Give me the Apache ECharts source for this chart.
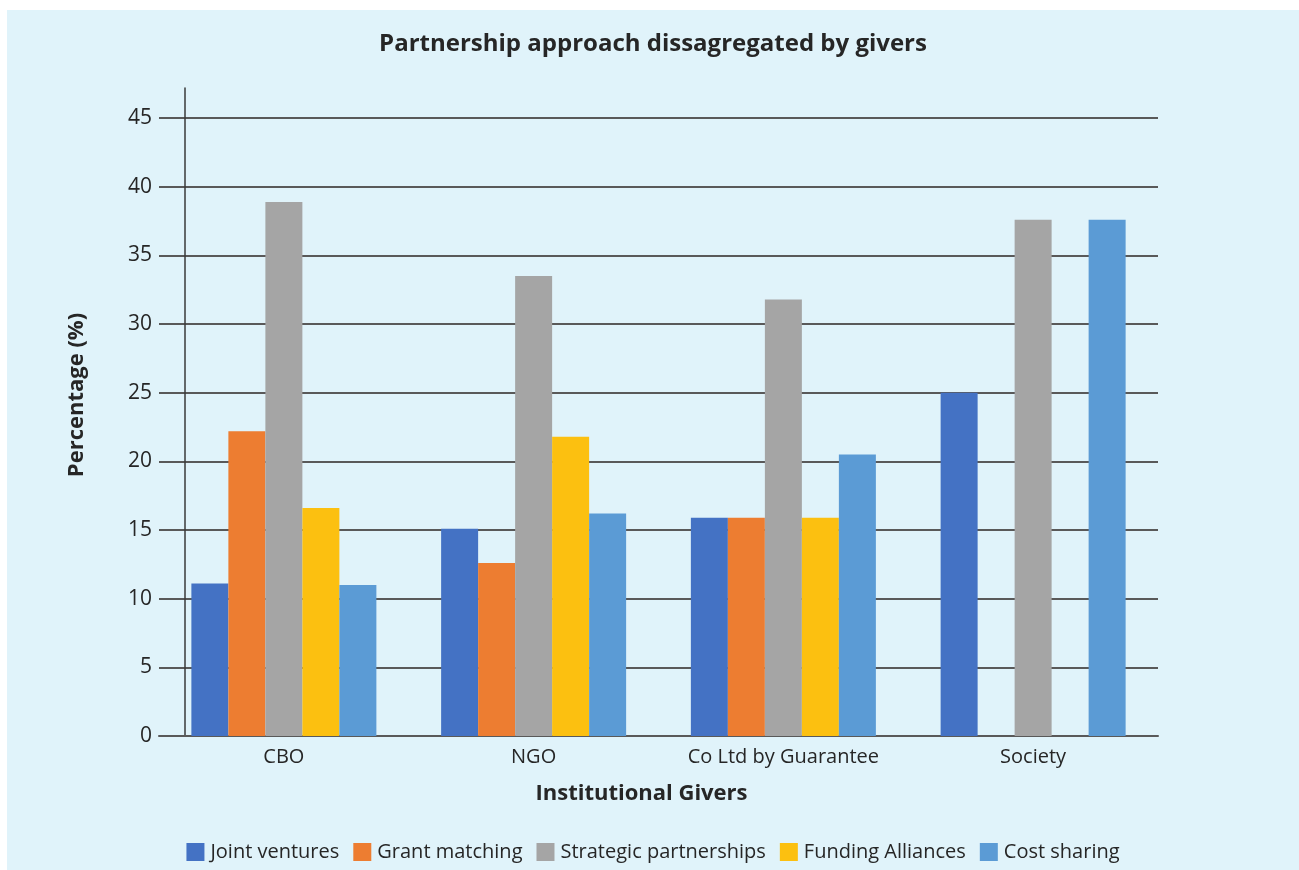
<!DOCTYPE html>
<html>
<head>
<meta charset="utf-8">
<title>Partnership approach dissagregated by givers</title>
<script src="https://cdn.jsdelivr.net/npm/echarts@6/dist/echarts.min.js"></script>
<style>
  html, body { margin: 0; padding: 0; background: #ffffff; }
  #chart {
    position: absolute; left: 7px; top: 10px;
    width: 1292px; height: 860px;
    background: #e0f3fa;
  }
</style>
</head>
<body>
<div id="chart"></div>
<script>
// Institutional giver types along the x axis
const categories = ['CBO', 'NGO', 'Co Ltd by Guarantee', 'Society'];

// Share (%) of each partnership approach per giver type
const jointVentures = [11.1, 15.1, 15.9, 25.0];
const grantMatching = [22.2, 12.6, 15.9, null];
const strategicPartnerships = [38.9, 33.5, 31.8, 37.6];
const fundingAlliances = [16.6, 21.8, 15.9, null];
const costSharing = [11.0, 16.2, 20.5, 37.6];

// Value axis tick labels
const yTicks = [0, 5, 10, 15, 20, 25, 30, 35, 40, 45];

const seriesDefs = [
  { name: 'Joint ventures', data: jointVentures, color: '#4472c4' },
  { name: 'Grant matching', data: grantMatching, color: '#ed7d31' },
  { name: 'Strategic partnerships', data: strategicPartnerships, color: '#a5a5a5' },
  { name: 'Funding Alliances', data: fundingAlliances, color: '#fcc010' },
  { name: 'Cost sharing', data: costSharing, color: '#5b9bd5' }
];

const FONT = "'Open Sans', 'Noto Sans', sans-serif";
const TEXT = '#262626';
const LINE = '#595959';

const chart = echarts.init(document.getElementById('chart'), null, { renderer: 'canvas' });

chart.setOption({
  backgroundColor: 'transparent',
  animation: false,
  textStyle: { fontFamily: FONT, color: TEXT },
  title: {
    text: 'Partnership approach dissagregated by givers',
    left: 'center',
    top: 17,
    textStyle: { fontFamily: FONT, fontSize: 24, fontWeight: 'bold', color: TEXT }
  },
  legend: {
    bottom: 3,
    left: 'center',
    icon: 'rect',
    itemWidth: 18,
    itemHeight: 18,
    itemGap: 14,
    textStyle: { fontFamily: FONT, fontSize: 20, color: TEXT, padding: [0, 0, 0, 1] },
    data: seriesDefs.map(s => s.name)
  },
  grid: { left: 152, right: 141, top: 78, bottom: 134, containLabel: false },
  xAxis: {
    type: 'category',
    data: categories,
    name: 'Institutional Givers',
    nameLocation: 'middle',
    nameGap: 47,
    nameTextStyle: { fontFamily: FONT, fontSize: 22, fontWeight: 'bold', color: TEXT, padding: [0, 34, 0, 0] },
    axisLine: { show: true, lineStyle: { color: LINE, width: 2 } },
    axisTick: { show: false },
    axisLabel: { fontFamily: FONT, fontSize: 20, color: TEXT, margin: 11 }
  },
  yAxis: {
    type: 'value',
    min: 0,
    max: 47.2,
    interval: 5,
    offset: -26,
    axisLine: { show: true, onZero: false, lineStyle: { color: '#3a3a3a', width: 1.5 } },
    axisTick: { show: false },
    axisLabel: {
      fontFamily: FONT, fontSize: 21, color: TEXT, margin: 33,
      showMaxLabel: false,
      formatter: v => (yTicks.indexOf(v) >= 0 ? String(v) : '')
    },
    splitLine: {
      show: true,
      showMinLine: false,
      showMaxLine: false,
      lineStyle: { color: LINE, width: 2 }
    }
  },
  graphic: [{
    type: 'text',
    x: 70,
    y: 385,
    rotation: Math.PI / 2,
    style: {
      text: 'Percentage (%)',
      fontFamily: FONT,
      fontSize: 22,
      fontWeight: 'bold',
      fill: TEXT,
      align: 'center',
      verticalAlign: 'middle'
    }
  }],
  series: seriesDefs.map(s => ({
    name: s.name,
    type: 'bar',
    data: s.data,
    barWidth: 37,
    barGap: '0%',
    itemStyle: { color: s.color },
    emphasis: { disabled: true }
  }))
});
</script>
</body>
</html>
